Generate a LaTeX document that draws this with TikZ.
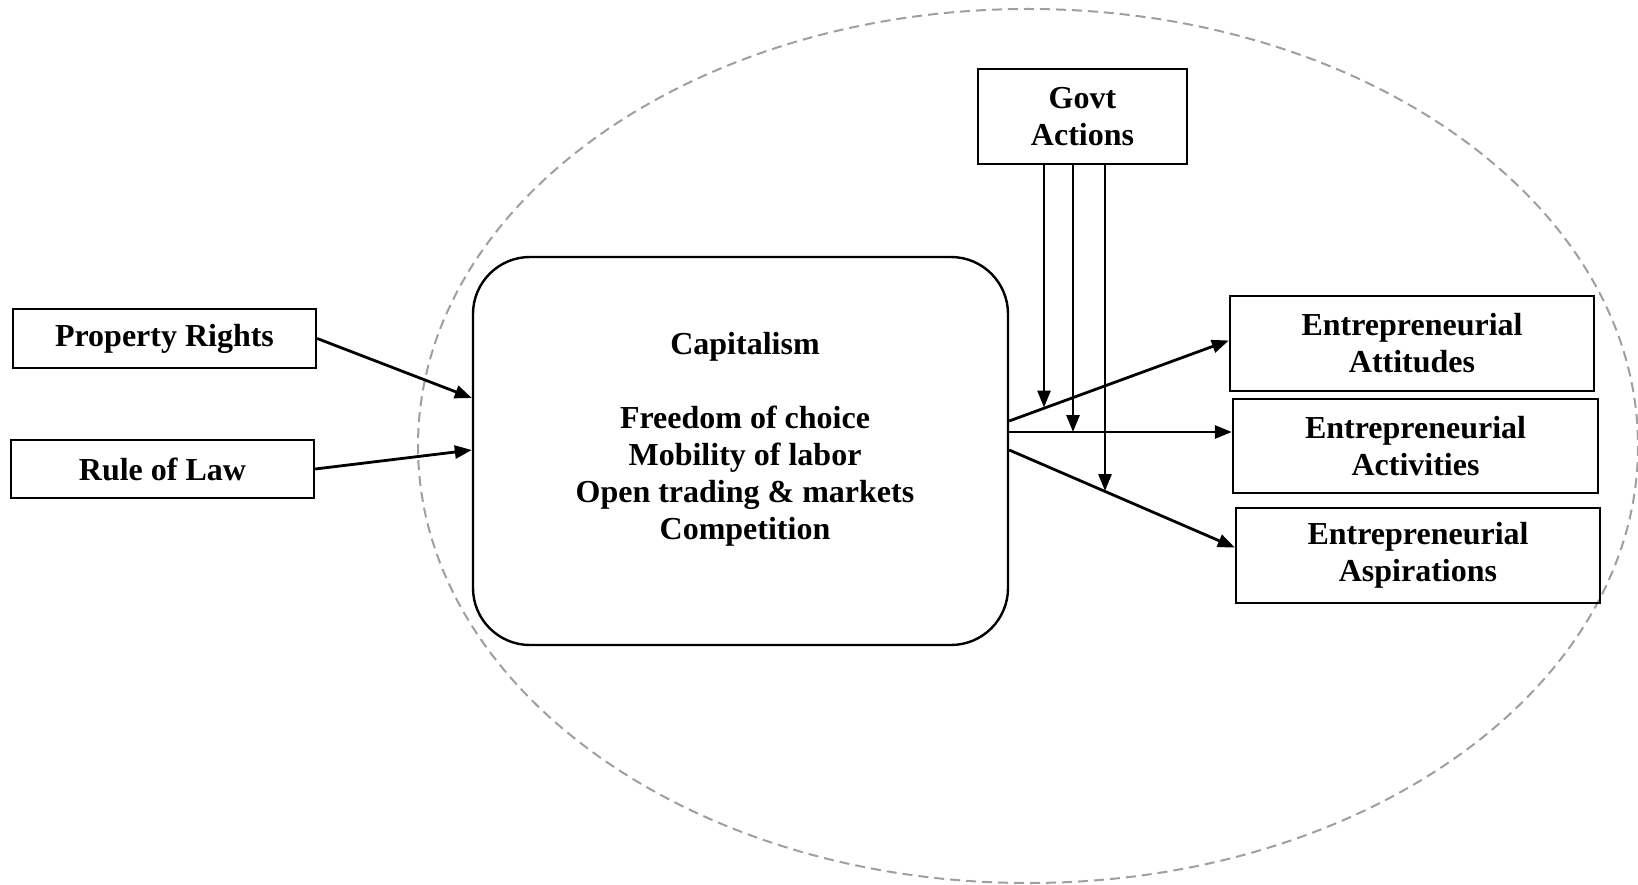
\documentclass[tikz,border=0pt]{standalone}
\usepackage{fontspec}
\setmainfont{Liberation Serif}
\usetikzlibrary{arrows.meta,calc}
\tikzset{
  box/.style={draw, line width=2.4pt, rectangle, inner sep=0pt, align=center, font=\fontsize{32}{37}\selectfont\bfseries},
  arr/.style={-{Triangle[length=17pt,width=13pt]}, line width=2.8pt},
  ring/.style={draw=gray!75, dash pattern=on 10pt off 6pt, line width=2pt}
}
\begin{document}
\begin{tikzpicture}[x=1pt,y=-1pt]
\useasboundingbox (0,0) rectangle (1638,885);
\draw[ring] (1028,446) ellipse [x radius=610, y radius=437];

\node[box, minimum width=303pt, minimum height=59pt] (pr) at (164.5,338.5) {Property Rights};
\node[box, minimum width=303pt, minimum height=58pt] (rl) at (162.5,469) {Rule of Law};
\node[box, minimum width=535pt, minimum height=388pt, rounded corners=57pt] (cap) at (740.5,451) {};
\node[align=center, inner sep=0pt, font=\fontsize{32}{37}\selectfont\bfseries] (capt) at (745,439)
  {Capitalism\\[37pt]Freedom of choice\\Mobility of labor\\Open trading \& markets\\Competition};
\node[box, minimum width=209pt, minimum height=95pt] (govt) at (1082.5,116.5) {Govt\\Actions};
\node[box, minimum width=364pt, minimum height=95pt] (att) at (1412,343.5) {Entrepreneurial\\Attitudes};
\node[box, minimum width=365pt, minimum height=94pt] (act) at (1415.5,446) {Entrepreneurial\\Activities};
\node[box, minimum width=364pt, minimum height=95pt] (asp) at (1418,555.5) {Entrepreneurial\\Aspirations};

\draw[arr] (pr.east) -- ([yshift=53pt]cap.west);
\draw[arr] (rl.east) -- ([yshift=1pt]cap.west);

\draw[arr] ([yshift=30pt]cap.east) -- ([yshift=3pt]att.west);
\draw[arr] ([yshift=19pt]cap.east) -- ([yshift=14pt]act.west);
\draw[arr] ([yshift=1pt]cap.east) -- ([yshift=8pt]asp.west);

\coordinate (g1) at (1044,407.5);
\coordinate (g2) at (1073,432);
\coordinate (g3) at (1105,491);
\draw[arr] (govt.south -| g1) -- (g1);
\draw[arr] (govt.south -| g2) -- (g2);
\draw[arr] (govt.south -| g3) -- (g3);
\end{tikzpicture}
\end{document}
